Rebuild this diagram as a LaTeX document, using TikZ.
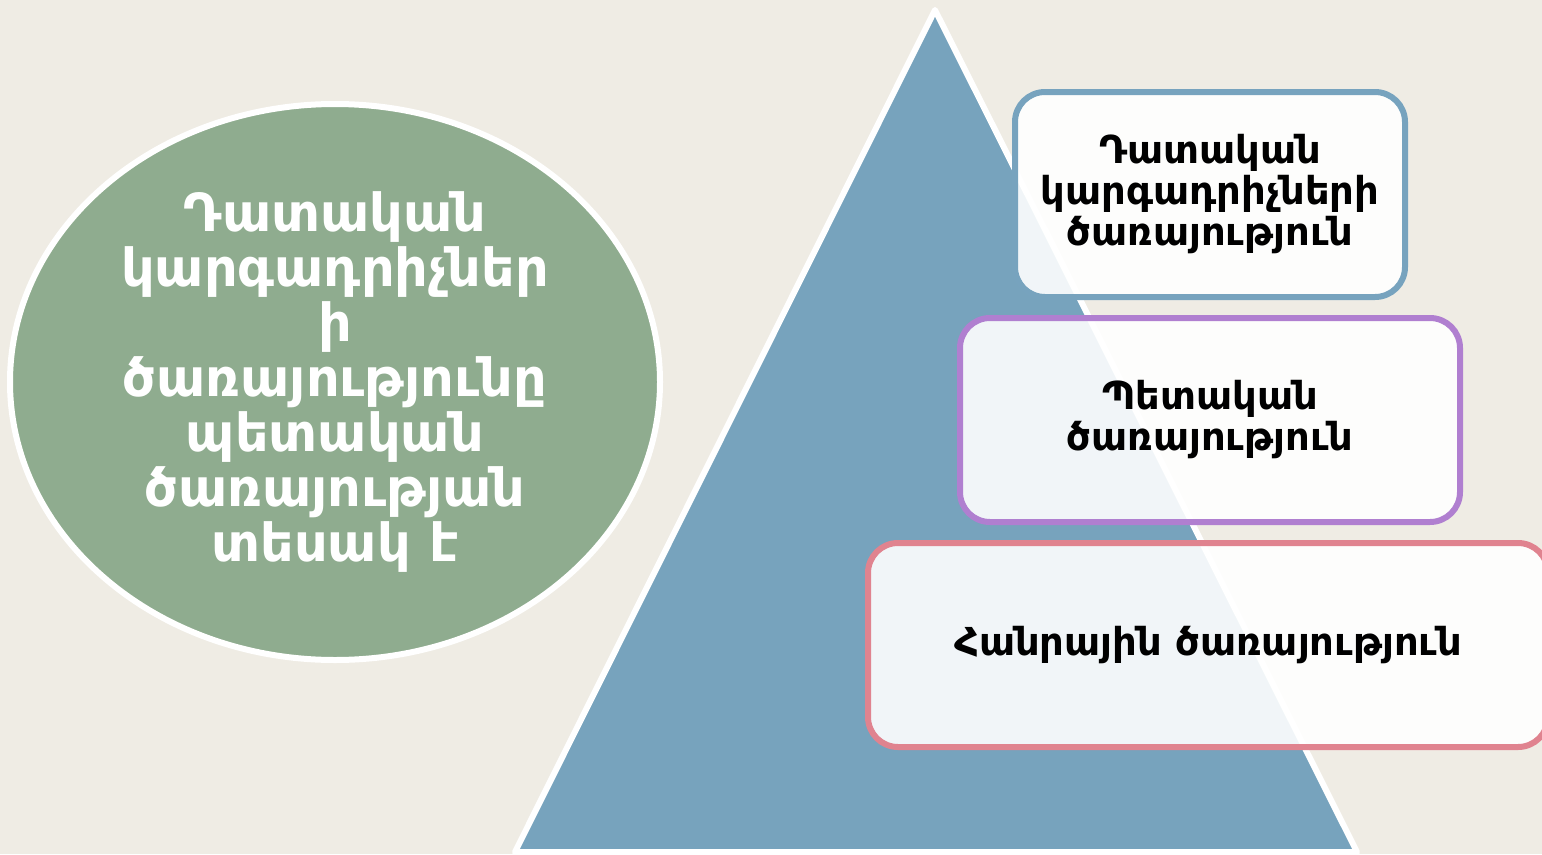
\documentclass[tikz,border=0pt]{standalone}
\usepackage{fontspec}
\setmainfont{DejaVu Sans}
\usetikzlibrary{shapes.geometric}
\definecolor{bg}{HTML}{EFECE4}
\definecolor{tri}{HTML}{77A3BD}
\definecolor{ell}{HTML}{8FAC8F}
\definecolor{bblue}{HTML}{77A3BE}
\definecolor{bpurp}{HTML}{B07FD0}
\definecolor{bpink}{HTML}{E0838F}
\tikzset{
  card/.style={draw, line width=6pt, rounded corners=30pt, fill=white, fill opacity=0.9, text opacity=1,
    align=center, font=\bfseries\fontsize{38.5}{41}\selectfont, text=black, inner sep=0pt},
}
\begin{document}
\begin{tikzpicture}[x=1pt,y=-1pt]
\useasboundingbox (0,0) rectangle (1542,854);
\fill[bg] (0,0) rectangle (1542,854);
% triangle
\draw[fill=tri, draw=white, line width=6pt, line join=round] (935,10) -- (1357,852) -- (515,852) -- cycle;
% ellipse
\node[ellipse, draw=white, line width=6pt, fill=ell, minimum width=650pt, minimum height=556pt, inner sep=0pt,
  align=center, text=white, font=\bfseries\fontsize{52.5}{55}\selectfont] (E) at (335,382)
  {Դատական\\կարգադրիչներ\\ի\\ծառայությունը\\պետական\\ծառայության\\տեսակ է};
% cards
\node[card, draw=bblue, minimum width=390pt, minimum height=205pt] (A) at (1210,194.5)
  {Դատական\\կարգադրիչների\\ծառայություն};
\node[card, draw=bpurp, minimum width=500pt, minimum height=204pt] (B) at (1210,420)
  {Պետական\\ծառայություն};
\node[card, draw=bpink, minimum width=680pt, minimum height=204pt] (C) at (1208,645)
  {Հանրային ծառայություն};
\end{tikzpicture}
\end{document}
